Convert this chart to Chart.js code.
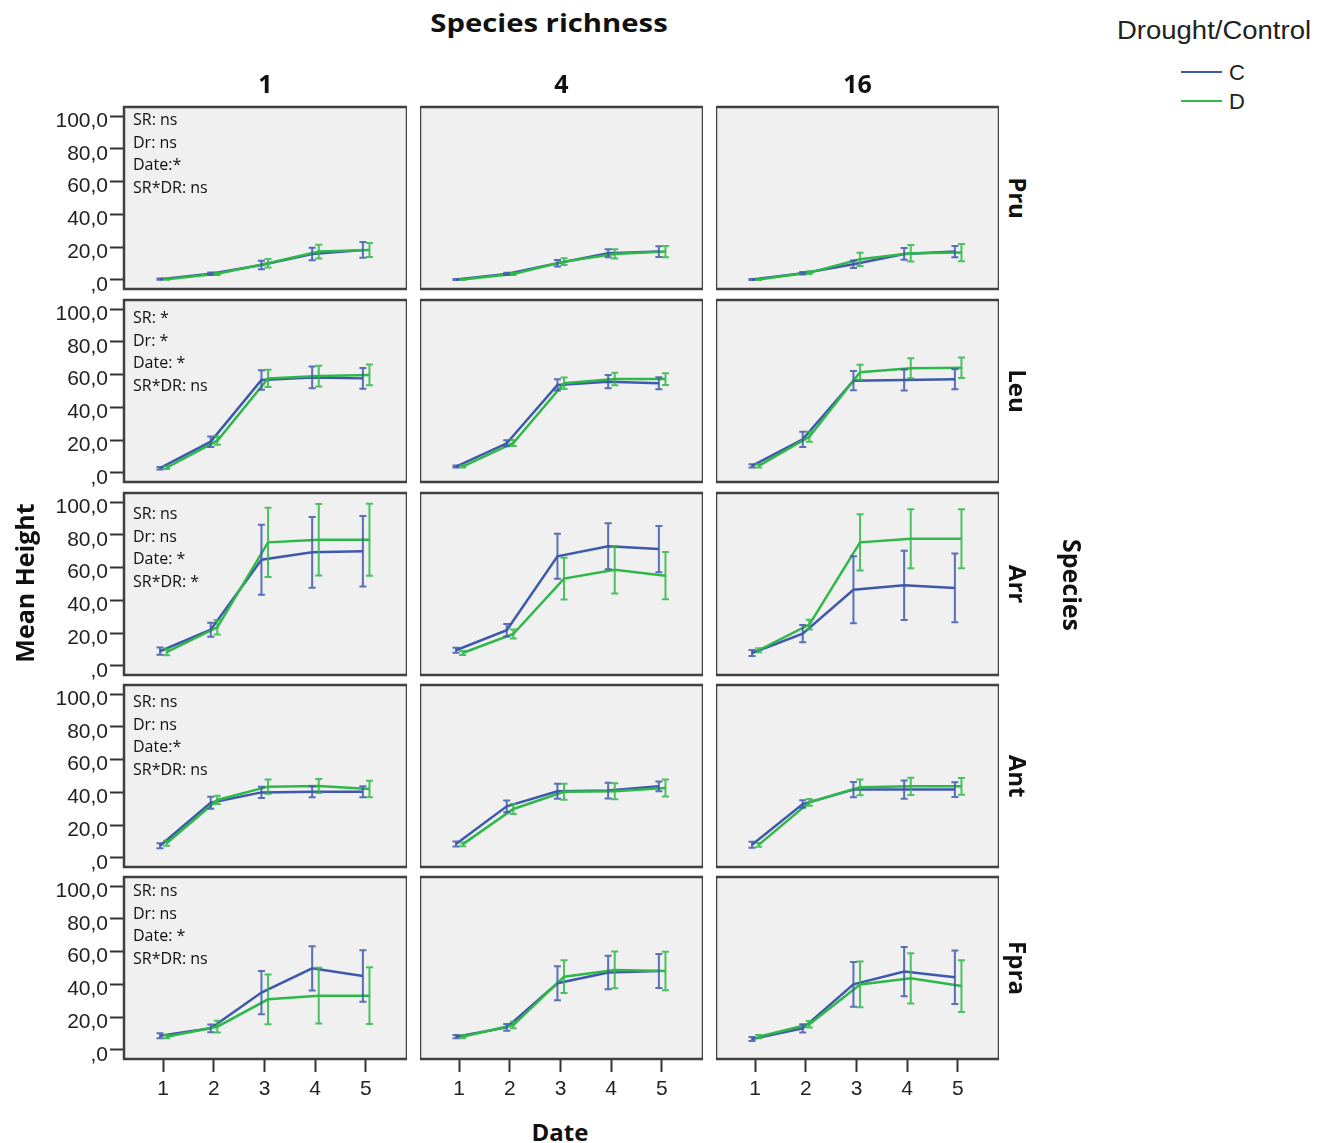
<!DOCTYPE html>
<html>
<head>
<meta charset="utf-8">
<script src="https://cdn.jsdelivr.net/npm/chart.js@4.4.0/dist/chart.umd.min.js"></script>
<style>
  body { margin: 0; background: #fff; }
  #wrap { position: relative; width: 1328px; height: 1143px; overflow: hidden; background: #fff; }
  #wrap canvas { position: absolute; }
  .lbl { position: absolute; white-space: nowrap; color: #111; }
  .bold { font-family: "Open Sans", "Noto Sans", sans-serif; font-weight: 700; font-size: 24px; }
  .note { font-family: "Open Sans", "Noto Sans", sans-serif; font-size: 16px; line-height: 22.5px; color: #111; }
  .leg { font-family: "Liberation Sans", Arial, sans-serif; color: #222; }
</style>
</head>
<body>
<div id="wrap"></div>
<script>
// categories
var dates = [1, 2, 3, 4, 5];
var richness = ['1', '4', '16'];
var species = ['Pru', 'Leu', 'Arr', 'Ant', 'Fpra'];
var groups = ['C', 'D'];
var yTicks = [0, 20, 40, 60, 80, 100];
var yTickLabels = [',0', '20,0', '40,0', '60,0', '80,0', '100,0'];

// mean height per species, one row per species richness (1, 4, 16), one value per date
var pruMeanC = [[0.5, 3.8, 9.1, 15.9, 18.3], [0.3, 3.7, 10.2, 16.3, 17.3], [0.3, 4.1, 9.6, 15.9, 17.3]];
var pruErrC  = [[0.4, 0.8, 2.6, 3.8, 4.8], [0.3, 0.7, 2.0, 2.5, 3.3], [0.3, 0.8, 2.3, 3.6, 3.5]];
var pruMeanD = [[0.5, 3.8, 10.2, 17.3, 18.3], [0.3, 3.7, 11.2, 15.9, 17.3], [0.3, 4.5, 12.6, 16.3, 16.7]];
var pruErrD  = [[0.4, 0.8, 2.6, 4.2, 4.3], [0.3, 0.7, 2.0, 2.8, 3.5], [0.3, 0.9, 4.0, 5.0, 5.2]];

var leuMeanC = [[2.9, 19.1, 56.7, 58.3, 57.7], [3.9, 18.1, 53.7, 55.7, 54.7], [4.3, 20.5, 56.3, 56.7, 57.1]];
var leuErrC  = [[0.8, 3.2, 5.9, 6.6, 6.4], [0.6, 1.8, 3.4, 4.0, 3.7], [1.0, 4.6, 5.9, 6.4, 6.1]];
var leuMeanD = [[3.2, 19.7, 57.7, 59.1, 59.8], [3.9, 18.3, 54.7, 57.3, 57.3], [4.3, 22.1, 61.4, 63.8, 64.2]];
var leuErrD  = [[0.8, 2.5, 5.3, 6.3, 6.3], [0.6, 1.8, 3.5, 3.8, 3.6], [1.0, 3.0, 4.6, 6.1, 6.3]];

var arrMeanC = [[9.0, 22.1, 64.8, 69.3, 69.9], [9.6, 21.8, 66.9, 73.0, 71.3], [7.9, 19.7, 46.5, 49.2, 47.6]];
var arrErrC  = [[2.2, 4.3, 21.3, 21.6, 21.5], [1.5, 3.8, 13.7, 14.0, 14.1], [1.8, 5.3, 20.5, 21.1, 21.0]];
var arrMeanD = [[8.5, 23.6, 75.4, 77.0, 77.0], [7.9, 19.5, 53.3, 58.7, 55.1], [9.6, 25.2, 75.4, 77.6, 77.6]];
var arrErrD  = [[2.0, 4.4, 21.1, 21.8, 22.0], [1.2, 2.7, 12.7, 14.5, 14.4], [1.2, 3.0, 17.1, 18.0, 18.0]];

var antMeanC = [[7.5, 33.7, 40.0, 40.4, 40.4], [8.5, 31.5, 40.7, 41.1, 43.7], [8.1, 32.9, 41.7, 41.7, 41.7]];
var antErrC  = [[1.5, 3.6, 3.4, 3.3, 3.3], [1.5, 3.6, 4.6, 4.8, 3.0], [1.8, 2.3, 4.6, 5.6, 4.5]];
var antMeanD = [[9.0, 35.4, 43.5, 43.9, 42.1], [8.3, 29.9, 40.4, 40.7, 42.7], [8.0, 33.9, 43.1, 43.7, 43.7]];
var antErrD  = [[1.5, 2.5, 4.3, 4.3, 5.0], [1.2, 3.0, 4.9, 4.9, 5.2], [1.2, 2.0, 4.8, 5.3, 5.1]];

var fpraMeanC = [[8.7, 13.2, 35.0, 49.8, 45.1], [8.1, 13.8, 40.7, 47.2, 48.2], [6.7, 13.2, 40.0, 47.8, 44.3]];
var fpraErrC  = [[1.5, 2.4, 13.2, 13.5, 15.7], [1.0, 2.0, 10.4, 10.2, 10.4], [1.2, 2.5, 13.7, 15.0, 16.3]];
var fpraMeanD = [[8.1, 14.2, 30.9, 33.1, 33.1], [8.1, 15.2, 44.7, 48.8, 48.2], [8.1, 15.7, 40.0, 43.7, 39.0]];
var fpraErrD  = [[1.0, 3.6, 15.2, 17.0, 17.3], [1.0, 2.0, 10.0, 11.2, 11.7], [1.0, 2.0, 13.9, 15.3, 15.8]];

// significance notes shown in the first column
var pruNotes = ['SR: ns', 'Dr: ns', 'Date:*', 'SR*DR: ns'];
var leuNotes = ['SR: *', 'Dr: *', 'Date: *', 'SR*DR: ns'];
var arrNotes = ['SR: ns', 'Dr: ns', 'Date: *', 'SR*DR: *'];
var antNotes = ['SR: ns', 'Dr: ns', 'Date:*', 'SR*DR: ns'];
var fpraNotes = ['SR: ns', 'Dr: ns', 'Date: *', 'SR*DR: ns'];

var meansC = [pruMeanC, leuMeanC, arrMeanC, antMeanC, fpraMeanC];
var errsC = [pruErrC, leuErrC, arrErrC, antErrC, fpraErrC];
var meansD = [pruMeanD, leuMeanD, arrMeanD, antMeanD, fpraMeanD];
var errsD = [pruErrD, leuErrD, arrErrD, antErrD, fpraErrD];
var notes = [pruNotes, leuNotes, arrNotes, antNotes, fpraNotes];

// layout
var colors = { C: '#3e58ac', D: '#2eb848' };
var dodge = { C: -0.06, D: 0.07 };
var panelLeft = [124, 420, 716];
var panelTop = [107, 300, 493, 685, 877];
var panelW = 283, panelH = 182;
var YAX = 72, XAX = 45, PADT = 14, PADB = 14;
var noteTop = [12, 17, 20, 16, 13];

var wrap = document.getElementById('wrap');

function addLabel(text, cls, x, y, rot, size, sx) {
  var d = document.createElement('div');
  d.className = 'lbl ' + cls;
  d.textContent = text;
  d.style.left = x + 'px';
  d.style.top = y + 'px';
  if (size) d.style.fontSize = size + 'px';
  d.style.transform = 'translate(-50%,-50%)' + (rot ? ' rotate(' + rot + 'deg)' : '') + (sx ? ' scaleX(' + sx + ')' : '');
  wrap.appendChild(d);
  return d;
}

// panel box + error bars
var panelPlugin = {
  id: 'panel',
  beforeDraw: function(chart) {
    var a = chart.chartArea, ctx = chart.ctx;
    ctx.save();
    ctx.fillStyle = '#f0f0f0';
    ctx.fillRect(a.left, a.top, a.right - a.left, a.bottom - a.top);
    ctx.restore();
  },
  afterDatasetsDraw: function(chart) {
    var ctx = chart.ctx, ys = chart.scales.y;
    chart.data.datasets.forEach(function(ds, di) {
      var meta = chart.getDatasetMeta(di);
      ctx.save();
      ctx.strokeStyle = ds.borderColor;
      ctx.globalAlpha = 0.85;
      ctx.lineWidth = 2;
      meta.data.forEach(function(pt, i) {
        var m = ds.data[i].y, e = ds.errors[i];
        var y1 = ys.getPixelForValue(m + e), y2 = ys.getPixelForValue(m - e);
        ctx.beginPath();
        ctx.moveTo(pt.x, y1); ctx.lineTo(pt.x, y2);
        ctx.moveTo(pt.x - 3.5, y1); ctx.lineTo(pt.x + 3.5, y1);
        ctx.moveTo(pt.x - 3.5, y2); ctx.lineTo(pt.x + 3.5, y2);
        ctx.stroke();
      });
      ctx.restore();
    });
  },
  afterDraw: function(chart) {
    var a = chart.chartArea, ctx = chart.ctx;
    ctx.save();
    ctx.strokeStyle = '#404040';
    ctx.lineWidth = 2.5;
    ctx.strokeRect(a.left, a.top, a.right - a.left, a.bottom - a.top);
    ctx.restore();
  }
};

function series(mean, err, g) {
  return {
    label: g,
    data: dates.map(function(d, i) { return { x: d + dodge[g], y: mean[i] }; }),
    errors: err,
    borderColor: colors[g],
    borderWidth: 2.5,
    pointRadius: 0,
    tension: 0,
    fill: false,
    order: g === 'C' ? 1 : 0
  };
}

var tickFont = { family: '"Liberation Sans", Arial, sans-serif', size: 21 };

species.forEach(function(sp, r) {
  richness.forEach(function(sr, c) {
    var showY = c === 0, showX = r === species.length - 1;
    var left = panelLeft[c] - (showY ? YAX : 0);
    var top = panelTop[r] - PADT;
    var w = panelW + (showY ? YAX : 0);
    var h = panelH + PADT + (showX ? XAX : PADB);
    var cv = document.createElement('canvas');
    cv.width = w; cv.height = h;
    cv.style.left = left + 'px'; cv.style.top = top + 'px';
    cv.style.width = w + 'px'; cv.style.height = h + 'px';
    wrap.appendChild(cv);

    new Chart(cv.getContext('2d'), {
      type: 'line',
      data: {
        datasets: [series(meansC[r][c], errsC[r][c], 'C'), series(meansD[r][c], errsD[r][c], 'D')]
      },
      options: {
        responsive: false,
        animation: false,
        layout: { padding: { top: PADT, bottom: showX ? 0 : PADB, left: 0, right: 0 } },
        plugins: { legend: { display: false }, tooltip: { enabled: false } },
        scales: {
          x: {
            type: 'linear', min: 0.23, max: 5.81,
            display: showX,
            afterBuildTicks: function(s) { s.ticks = dates.map(function(v) { return { value: v }; }); },
            afterFit: function(s) {
              if (!showX) return;
              s.height = XAX; s.paddingLeft = 0; s.paddingRight = 0;
            },
            ticks: { font: tickFont, color: '#222', padding: 5, maxRotation: 0,
              callback: function(v) { return String(v); } },
            grid: { drawOnChartArea: false, drawTicks: true, tickLength: 13, tickWidth: 2, tickColor: '#333' },
            border: { display: false }
          },
          y: {
            type: 'linear', min: -5.5, max: 105.5,
            display: showY,
            afterBuildTicks: function(s) { s.ticks = yTicks.map(function(v) { return { value: v }; }); },
            afterFit: function(s) {
              if (!showY) return;
              s.width = YAX; s.paddingTop = 0; s.paddingBottom = 0;
            },
            ticks: { font: tickFont, color: '#222', padding: 2, labelOffset: 5,
              callback: function(v) { return yTickLabels[yTicks.indexOf(v)]; } },
            grid: { drawOnChartArea: false, drawTicks: true, tickLength: 14, tickWidth: 2, tickColor: '#333' },
            border: { display: false }
          }
        }
      },
      plugins: [panelPlugin]
    });

    if (showY) {
      var n = document.createElement('div');
      n.className = 'lbl note';
      n.style.left = (panelLeft[0] + 9) + 'px';
      n.style.top = (panelTop[r] + noteTop[r] - 11) + 'px';
      n.innerHTML = notes[r].join('<br>');
      wrap.appendChild(n);
    }
  });
  addLabel(sp, 'bold', 1018, panelTop[r] + panelH / 2, 90);
});

// titles
addLabel('Species richness', 'bold', 549, 22, 0, 25, 1.17);
richness.forEach(function(sr, c) { addLabel(sr, 'bold', panelLeft[c] + panelW / 2, 83, 0, 25); });
addLabel('Species', 'bold', 1073, 585, 90, 25);
addLabel('Mean Height', 'bold', 24, 583, -90, 25);
addLabel('Date', 'bold', 560, 1131, 0, 24);

// legend
addLabel('Drought/Control', 'leg', 1214, 30, 0, 25, 1.1);
groups.forEach(function(g, i) {
  var ln = document.createElement('div');
  ln.style.position = 'absolute';
  ln.style.left = '1181px';
  ln.style.top = (71 + i * 29) + 'px';
  ln.style.width = '41px';
  ln.style.height = '2px';
  ln.style.background = colors[g];
  wrap.appendChild(ln);
  addLabel(g, 'leg', 1237, 73 + i * 29, 0, 22);
});
</script>
</body>
</html>
